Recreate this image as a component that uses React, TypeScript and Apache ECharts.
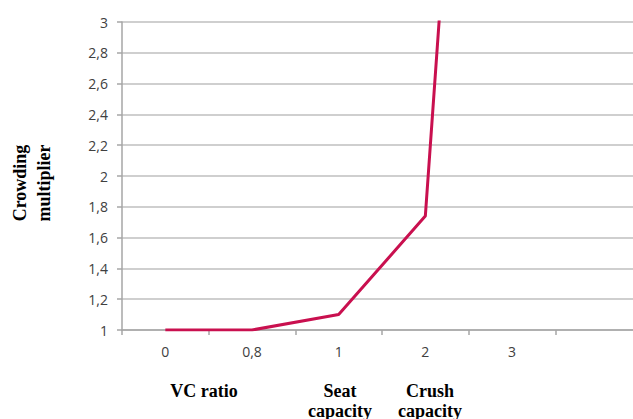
import React, { useEffect, useRef } from "react";
import * as echarts from "echarts";

const categories = ["0", "0,8", "1", "2", "3", ""];
const multiplier = [1, 1, 1.1, 1.74, 9.7];
const yMin = 1;
const yMax = 3;
const yStep = 0.2;
const yTitle = "Crowding\nmultiplier";
const bottomNotes = [
  { text: "VC ratio", x: 204 },
  { text: "Seat\ncapacity", x: 340 },
  { text: "Crush\ncapacity", x: 430 },
];

export default function App() {
  const ref = useRef<HTMLDivElement>(null);
  useEffect(() => {
    if (!ref.current) return;
    const chart = echarts.init(ref.current, undefined, { renderer: "svg" });
    const serif = "'Liberation Serif', 'Times New Roman', serif";
    chart.setOption({
      animation: false,
      backgroundColor: "#ffffff",
      grid: { left: 122, right: 0, top: 22, bottom: 89, containLabel: false },
      xAxis: {
        type: "category",
        data: categories,
        boundaryGap: true,
        axisLine: { show: true, lineStyle: { color: "#a6a6a6", width: 1.5 } },
        axisTick: { show: true, length: 5, alignWithLabel: false, lineStyle: { color: "#a6a6a6", width: 1.5 } },
        axisLabel: { margin: 14, fontFamily: "'Open Sans', sans-serif", fontSize: 14, color: "#404040" },
        splitLine: { show: false },
      },
      yAxis: {
        type: "value",
        min: yMin,
        max: yMax,
        interval: yStep,
        axisLine: { show: true, lineStyle: { color: "#a6a6a6", width: 1.5 } },
        axisTick: { show: true, length: 5, lineStyle: { color: "#a6a6a6", width: 1.5 } },
        axisLabel: {
          margin: 14,
          fontFamily: "'Open Sans', sans-serif",
          fontSize: 14,
          color: "#404040",
          formatter: (v: number) => String(Number(v.toFixed(1))).replace(".", ","),
        },
        splitLine: { show: true, lineStyle: { color: "#bfbfbf", width: 1.5 } },
      },
      series: [
        {
          type: "line",
          data: multiplier,
          symbol: "none",
          clip: true,
          lineStyle: { color: "#c9104f", width: 3 },
        },
      ],
      graphic: [
        {
          type: "text",
          x: 32,
          y: 183,
          rotation: Math.PI / 2,
          style: {
            text: yTitle,
            align: "center",
            verticalAlign: "middle",
            font: `bold 18px ${serif}`,
            lineHeight: 24,
            fill: "#000000",
          },
        },
        ...bottomNotes.map((n) => ({
          type: "text",
          x: n.x,
          y: 381,
          style: {
            text: n.text,
            align: "center",
            verticalAlign: "top",
            font: `bold 18px ${serif}`,
            lineHeight: 20,
            fill: "#000000",
          },
        })),
      ],
    });
    return () => chart.dispose();
  }, []);
  return (
    <div style={{ position: "absolute", left: 0, top: 0, width: 633, height: 419, overflow: "hidden", background: "#fff" }}>
      <div ref={ref} style={{ width: 642, height: 419 }} />
    </div>
  );
}
